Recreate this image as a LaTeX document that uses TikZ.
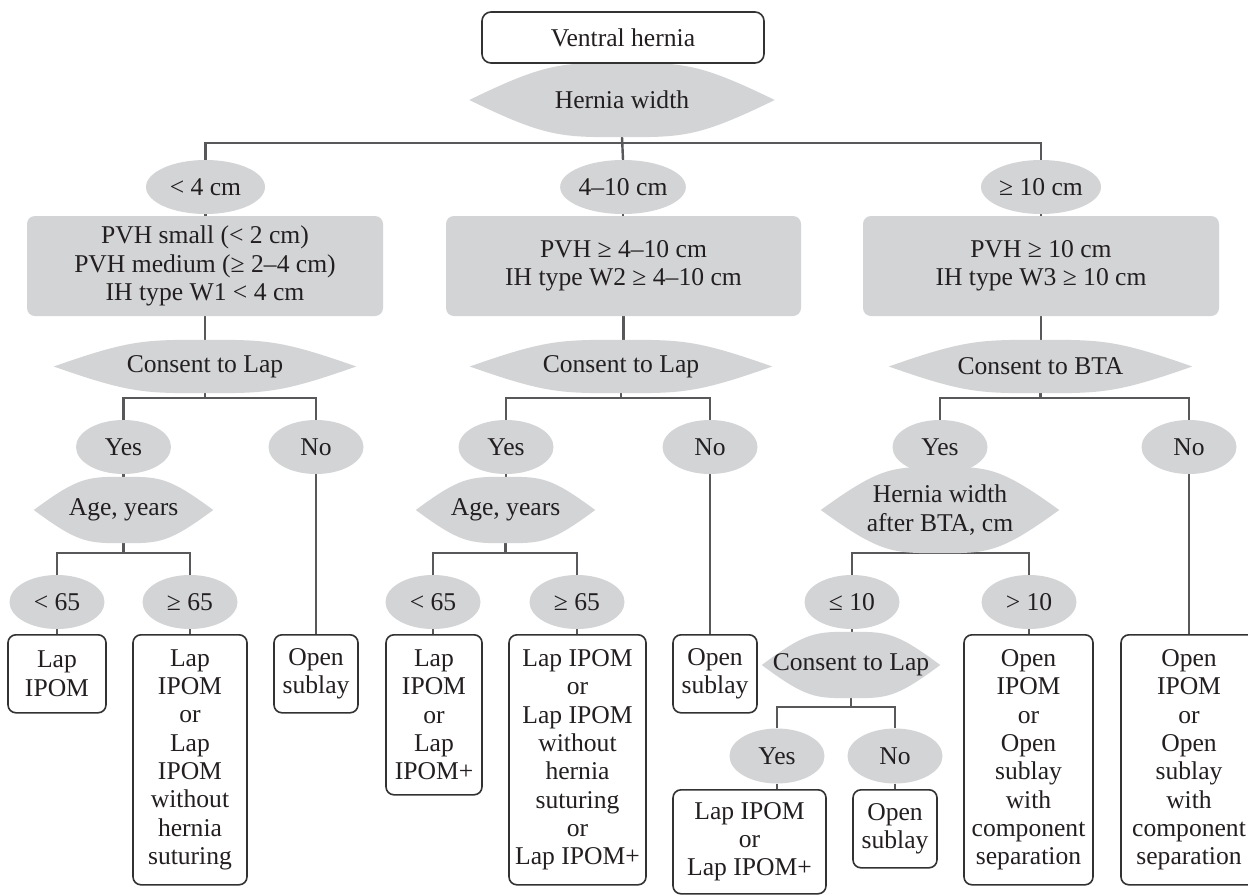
\documentclass[tikz,border=0pt]{standalone}
\usepackage{fontspec}
\setmainfont{Liberation Serif}
\usetikzlibrary{shapes.geometric, backgrounds, calc}
\definecolor{ink}{RGB}{35,31,32}
\definecolor{panel}{RGB}{211,212,214}
\definecolor{wire}{RGB}{88,88,90}
\definecolor{frame}{RGB}{50,50,50}

\tikzset{
  start/.style={draw=frame, line width=1.6pt, rounded corners=9pt, fill=white, minimum width=282pt, minimum height=51pt, inner sep=0pt},
  lens/.style={inner sep=0pt, align=center},
  choice/.style={ellipse, fill=panel, inner sep=0pt, minimum width=95pt, minimum height=54pt},
  crit/.style={fill=panel, rounded corners=8pt, minimum width=356pt, minimum height=100pt, inner sep=0pt, align=center},
  result/.style={draw=frame, line width=1.6pt, rounded corners=8pt, fill=white, anchor=north, inner sep=0pt, align=center},
  link/.style={draw=wire, line width=2.4pt},
}

\begin{document}
\begin{tikzpicture}[x=1pt, y=-1pt, every node/.style={font=\fontsize{25.6}{28.3}\selectfont, text=ink}]
  \useasboundingbox (0,0) rectangle (1248,895);

  % top
  \node[start] (vh) at (623,37.5) {Ventral hernia};
  \node[lens, minimum width=305pt, minimum height=74pt] (hw) at (622,100) {Hernia width};

  % width classes
  \node[choice, minimum width=119pt] (e1) at (205.5,187) {< 4 cm};
  \node[choice, minimum width=120pt] (e2) at (623,187) {4–10 cm};
  \node[choice, minimum width=120pt] (e3) at (1041,187) {≥ 10 cm};

  \node[crit] (g1) at (205,266) {PVH small (< 2 cm)\\PVH medium (≥ 2–4 cm)\\IH type W1 < 4 cm};
  \node[crit, minimum width=355pt] (g2) at (623.5,266) {PVH ≥ 4–10 cm\\IH type W2 ≥ 4–10 cm};
  \node[crit] (g3) at (1041,266) {PVH ≥ 10 cm\\IH type W3 ≥ 10 cm};

  % consent
  \node[lens, minimum width=302pt, minimum height=53pt] (c1) at (205,366.5) {Consent to Lap};
  \node[lens, minimum width=302pt, minimum height=53pt] (c2) at (621,366.5) {Consent to Lap};
  \node[lens, minimum width=303pt, minimum height=53pt] (c3) at (1040.5,366.5) {Consent to BTA};

  \node[choice] (y1) at (123.5,447) {Yes};
  \node[choice] (n1) at (316,447) {No};
  \node[choice] (y2) at (506,447) {Yes};
  \node[choice] (n2) at (710,447) {No};
  \node[choice] (y3) at (940,447) {Yes};
  \node[choice] (n3) at (1189,447) {No};

  \node[lens, minimum width=179pt, minimum height=66pt] (a1) at (123.5,510) {Age, years};
  \node[lens, minimum width=179pt, minimum height=66pt] (a2) at (505.5,510) {Age, years};
  \node[lens, minimum width=238pt, minimum height=86pt] (hb) at (940,510) {Hernia width\\after BTA, cm};

  \node[choice] (u1) at (57,602) {< 65};
  \node[choice] (o1) at (190,602) {≥ 65};
  \node[choice] (u2) at (433,602) {< 65};
  \node[choice] (o2) at (577,602) {≥ 65};
  \node[choice] (u3) at (852,602) {≤ 10};
  \node[choice] (o3) at (1029,602) {> 10};

  % outcomes
  \node[result, minimum width=98pt, minimum height=78pt] (r1) at (57,634) {Lap\\IPOM};
  \node[result, minimum width=114pt, minimum height=250pt] (r2) at (190,634) {Lap\\IPOM\\or\\Lap\\IPOM\\without\\hernia\\suturing};
  \node[result, minimum width=84pt, minimum height=78pt] (r3) at (316,634) {Open\\sublay};
  \node[result, minimum width=96pt, minimum height=160pt] (r4) at (434,634) {Lap\\IPOM\\or\\Lap\\IPOM+};
  \node[result, minimum width=137pt, minimum height=250pt] (r5) at (577.5,634) {Lap IPOM\\or\\Lap IPOM\\without\\hernia\\suturing\\or\\Lap IPOM+};
  \node[result, minimum width=84pt, minimum height=78pt] (r6) at (715,634) {Open\\sublay};

  \node[lens, minimum width=178pt, minimum height=66pt] (cl) at (851,665) {Consent to Lap};
  \node[choice, minimum height=55pt] (y4) at (777,756) {Yes};
  \node[choice, minimum height=55pt] (n4) at (895,756) {No};
  \node[result, minimum width=153pt, minimum height=104pt] (r7) at (749.5,789) {Lap IPOM\\or\\Lap IPOM+};
  \node[result, minimum width=84pt, minimum height=78pt] (r8) at (895,789) {Open\\sublay};
  \node[result, minimum width=129pt, minimum height=250pt] (r9) at (1028.5,634) {Open\\IPOM\\or\\Open\\sublay\\with\\component\\separation};
  \node[result, minimum width=136pt, minimum height=250pt] (r10) at (1189,634) {Open\\IPOM\\or\\Open\\sublay\\with\\component\\separation};

  \begin{scope}[on background layer]
    \fill[white] (0,0) rectangle (1248,895);

    % connectors
    \draw[link] (hw.south) -- (e2.north);
    \draw[link] (e1.north) -- ++(0,-17) -| (e3.north);
    \foreach \a/\b in {e1/g1, e2/g2, e3/g3, g1/c1, g2/c2, g3/c3,
                       y1/a1, y2/a2, u1/r1, o1/r2, n1/r3, u2/r4, o2/r5,
                       u3/cl, o3/r9, n3/r10, n4/r8}
      \draw[link] (\a.south) -- (\a.south |- \b.north);
    \draw[link] (n2.south) -- (n2.south |- r6.north);
    \draw[link] (y4.south) -- (y4.south |- r7.north);

    \draw[link] (c1.south) -- ++(0,6);
    \draw[link] (c2.south) -- ++(0,6);
    \draw[link] (c3.south) -- ++(0,6);
    \draw[link] (y1.north) -- ++(0,-22) -| (n1.north);
    \draw[link] (y2.north) -- ++(0,-22) -| (n2.north);
    \draw[link] (y3.north) -- ++(0,-22) -| (n3.north);

    \draw[link] (a1.south) -- ++(0,10);
    \draw[link] (a2.south) -- ++(0,10);
    \draw[link] (u1.north) -- ++(0,-22) -| (o1.north);
    \draw[link] (u2.north) -- ++(0,-22) -| (o2.north);
    \draw[link] (u3.north) -- ++(0,-22) -| (o3.north);

    \draw[link] (cl.south) -- ++(0,9);
    \draw[link] (y4.north) -- ++(0,-21.5) -| (n4.north);

    % decision shapes
    \foreach \n in {hw, c1, c2, c3, a1, a2, hb, cl}
      \fill[panel] (\n.west)
        .. controls ($(\n.north west)!.5!(\n.north)$) and ($(\n.north west)!.6!(\n.north)$) .. (\n.north)
        .. controls ($(\n.north east)!.6!(\n.north)$) and ($(\n.north east)!.5!(\n.north)$) .. (\n.east)
        .. controls ($(\n.south east)!.5!(\n.south)$) and ($(\n.south east)!.6!(\n.south)$) .. (\n.south)
        .. controls ($(\n.south west)!.6!(\n.south)$) and ($(\n.south west)!.5!(\n.south)$) .. (\n.west) -- cycle;
  \end{scope}
\end{tikzpicture}
\end{document}
